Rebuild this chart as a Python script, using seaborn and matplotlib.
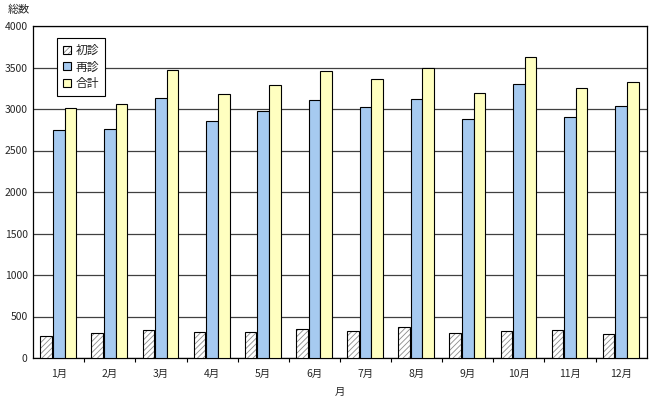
import numpy as np
import pandas as pd
import matplotlib
matplotlib.use("Agg")
import matplotlib.pyplot as plt
import seaborn as sns
from matplotlib.colors import to_rgba
from matplotlib.ticker import FixedLocator

months = ["1月", "2月", "3月", "4月", "5月", "6月", "7月", "8月", "9月", "10月", "11月", "12月"]
first_visit = [265, 300, 333, 310, 310, 345, 320, 377, 305, 320, 340, 290]
revisit = [2750, 2760, 3130, 2860, 2970, 3110, 3030, 3120, 2880, 3300, 2900, 3040]
total = [3010, 3060, 3470, 3180, 3295, 3455, 3360, 3495, 3195, 3630, 3250, 3330]
series_names = ["初診", "再診", "合計"]
colors = ["#FFFFFF", "#A6CAF0", "#FFFFC0"]

df = pd.DataFrame({
    "月": months * 3,
    "系列": np.repeat(series_names, len(months)),
    "総数": first_visit + revisit + total,
})

sns.set_theme(style="white")
plt.rcParams["font.family"] = ["Noto Sans CJK JP", "DejaVu Sans"]
plt.rcParams["hatch.linewidth"] = 0.6

fig = plt.figure(figsize=(6.5, 4.0), dpi=100)
ax = fig.add_axes([0.051, 0.105, 0.944, 0.83])

sns.barplot(data=df, x="月", y="総数", hue="系列", order=months, hue_order=series_names,
            palette=colors, saturation=1, width=0.68, edgecolor="black", linewidth=0.8,
            ax=ax, legend=True, zorder=3)

# hatch the 初診 bars, grey hatch with black outline; small gap to the next bar
for p in ax.containers[0]:
    p.set_hatch("//////")
    p._hatch_color = to_rgba("#8A8A8A")
    p.set_x(p.get_x() - 0.02)

ax.set_ylim(0, 4000)
ax.set_yticks(np.arange(0, 4001, 500))
ax.set_xlim(-0.5, len(months) - 0.5)
ax.yaxis.grid(True, color="#404040", linewidth=0.9, zorder=0)
ax.set_axisbelow(True)
for s in ax.spines.values():
    s.set_color("black")
    s.set_linewidth(0.9)

ax.tick_params(axis="y", labelsize=7.5, length=0, pad=4)
ax.tick_params(axis="x", labelsize=7.5, length=0, pad=8)
ax.xaxis.set_minor_locator(FixedLocator(np.arange(0.5, len(months) - 0.5, 1)))
ax.tick_params(axis="x", which="minor", length=3, color="black", width=0.8, bottom=True)

ax.set_ylabel("")
ax.set_xlabel("月", fontsize=7.5, labelpad=6)
fig.text(0.012, 0.988, "総数", fontsize=8, va="top", ha="left")

handles, labels = ax.get_legend_handles_labels()
leg = ax.legend(handles, labels, loc="upper left", bbox_to_anchor=(0.039, 0.964),
                borderaxespad=0, fontsize=8.5, frameon=True, fancybox=False,
                edgecolor="black", framealpha=1, handlelength=0.7, handleheight=0.7,
                handletextpad=0.4, labelspacing=0.3, borderpad=0.5)
leg.get_frame().set_linewidth(0.8)
leg.set_zorder(10)
h0 = leg.legend_handles[0]
h0.set_hatch("//////")
h0._hatch_color = to_rgba("#8A8A8A")

fig.savefig("out.png", dpi=100)
